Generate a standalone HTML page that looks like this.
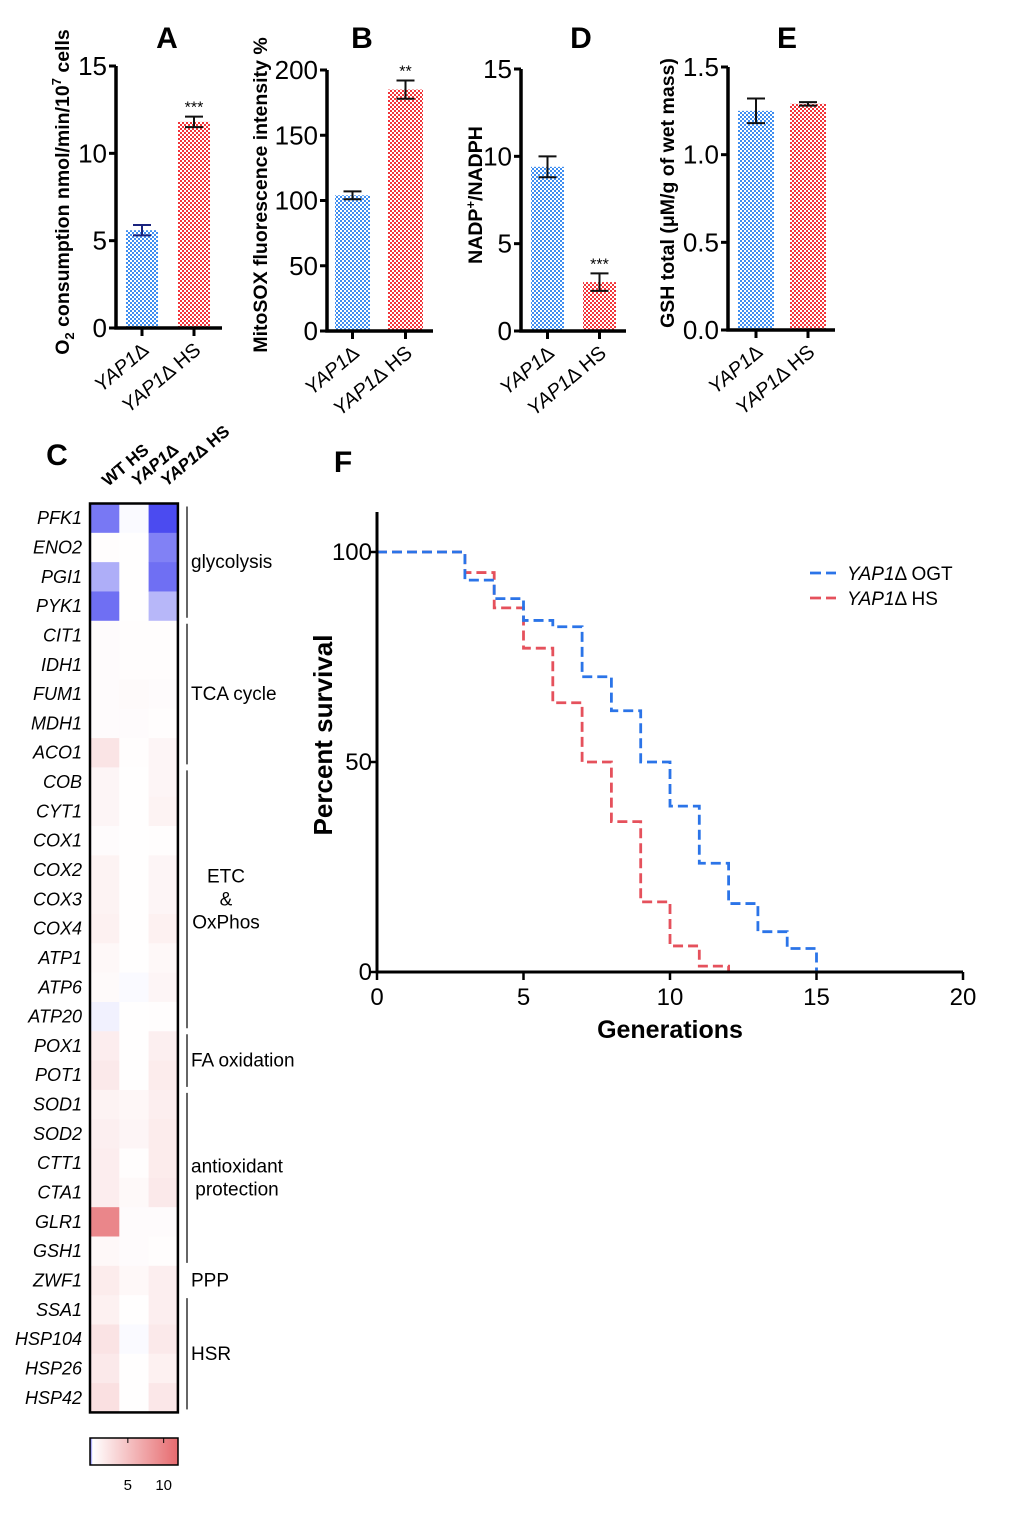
<!DOCTYPE html>
<html><head><meta charset="utf-8">
<style>
html,body{margin:0;padding:0;background:#fff;}
svg{display:block;font-family:"Liberation Sans",Arial,sans-serif;}
</style></head>
<body>
<svg id="fig" width="1020" height="1526" viewBox="0 0 1020 1526" xmlns="http://www.w3.org/2000/svg">
<defs>
<pattern id="pb" width="4" height="4" patternUnits="userSpaceOnUse">
<rect width="4" height="4" fill="#ffffff"/><rect width="2" height="2" fill="#3f8ef0"/><rect x="2" y="2" width="2" height="2" fill="#3f8ef0"/>
</pattern>
<pattern id="pr" width="4" height="4" patternUnits="userSpaceOnUse">
<rect width="4" height="4" fill="#ffffff"/><rect width="2" height="2" fill="#f2353a"/><rect x="2" y="2" width="2" height="2" fill="#f2353a"/>
</pattern>
<linearGradient id="cb" x1="0" x2="1" y1="0" y2="0">
<stop offset="0" stop-color="#4a4af0"/><stop offset="0.03" stop-color="#ffffff"/><stop offset="1" stop-color="#e66a6e"/>
</linearGradient>
</defs>
<g id="root"></g>
</svg>
<script>
// ---- Bar panel data ----
const barCategories = ["YAP1\u0394", "YAP1\u0394 HS"];
const panelAValues = [5.6, 11.8];
const panelAErrors = [0.3, 0.3];
const panelBValues = [104, 185];
const panelBErrors = [3, 7];
const panelDValues = [9.4, 2.8];
const panelDErrors = [0.6, 0.5];
const panelEValues = [1.25, 1.29];
const panelEErrors = [0.07, 0.01];
const panelATicks = ["0","5","10","15"];
const panelBTicks = ["0","50","100","150","200"];
const panelDTicks = ["0","5","10","15"];
const panelETicks = ["0.0","0.5","1.0","1.5"];
// ---- Heatmap data ----
const heatGenes = ["PFK1","ENO2","PGI1","PYK1","CIT1","IDH1","FUM1","MDH1","ACO1","COB","CYT1","COX1","COX2","COX3","COX4","ATP1","ATP6","ATP20","POX1","POT1","SOD1","SOD2","CTT1","CTA1","GLR1","GSH1","ZWF1","SSA1","HSP104","HSP26","HSP42"];
const heatColumns = ["WT HS","YAP1\u0394","YAP1\u0394 HS"];
const heatWT   = [-0.75,0.2,-0.45,-0.8,0.3,0.3,0.3,0.3,2.2,0.8,0.8,0.3,1.0,1.0,1.2,0.6,0.4,-0.08,1.5,1.8,1.0,1.3,1.5,1.5,10,0.6,1.6,1.2,2.3,1.8,2.6];
const heatYAP  = [-0.03,0.1,0.05,0.05,0.2,0.2,0.4,0.3,0.2,0.1,0.1,0.1,0.1,0.1,0.1,0.1,-0.03,0.1,0.1,0.1,0.7,0.8,0.2,0.5,0.3,0.3,0.6,0.1,-0.03,0.05,0.1];
const heatYAPHS= [-1.0,-0.7,-0.8,-0.4,0.2,0.2,0.3,0.2,0.8,0.8,1.0,0.2,0.8,0.8,1.2,0.6,0.8,0.2,1.3,1.6,1.4,1.6,1.6,1.8,0.3,0.2,1.4,1.4,1.8,1.2,2.0];
const heatGroupNames = ["glycolysis","TCA cycle","ETC\n&\nOxPhos","FA oxidation","antioxidant\nprotection","PPP","HSR"];
const heatGroupStart = [0,4,9,18,20,26,27];
const heatGroupEnd   = [3,8,17,19,25,26,30];
const colorbarTicks = [5,10];
// ---- Survival data ----
const survGenerations = [0,3,4,5,6,7,8,9,10,11,12,13,14,15];
const survOGT = [100,93.3,88.9,83.7,82.2,70.3,62.2,50,39.5,25.9,16.3,9.6,5.6,0];
const survHSGen = [0,3,4,5,6,7,8,9,10,11,12];
const survHS = [100,95.1,86.7,77.1,64.1,50,35.8,16.7,6.2,1.4,0];
const survXTicks = [0,5,10,15,20];
const survYTicks = [0,50,100];
const legendLabels = ["OGT","HS"];

const NS="http://www.w3.org/2000/svg";
const root=document.getElementById('root');
function mk(tag,attrs,parent,text){const e=document.createElementNS(NS,tag);for(const k in attrs)e.setAttribute(k,attrs[k]);if(text!==undefined)e.textContent=text;(parent||root).appendChild(e);return e;}

function barPanel(cfg){
  const g=mk('g',{});
  
  
  const y=v=>cfg.y0-(v/cfg.max)*(cfg.y0-cfg.yTop);
  const t=mk('text',{x:cfg.letterX,y:48,'font-size':30,'font-weight':'bold','text-anchor':'middle'},g,cfg.letter);
  
  
  cfg.values.forEach((v,i)=>{
    const bx=cfg.barX[i];
    const r=mk('rect',{x:bx,y:y(v),width:cfg.barW,height:cfg.y0-y(v),fill:i?'url(#pr)':'url(#pb)'},g);
    
    
    const cx=bx+cfg.barW/2, e=cfg.errors[i];
    const col=(cfg.letter==='A'&&i===0)?'#1a237e':'#111';
    const eb=mk('path',{d:`M${cx-9},${y(v+e)}H${cx+9}M${cx},${y(v+e)}V${y(v-e)}M${cx-9},${y(v-e)}H${cx+9}`,stroke:col,'stroke-width':2,fill:'none'},g);
    
    
    if(cfg.stars&&cfg.stars[i]){
      const s=mk('text',{x:cx,y:y(v+e)-4,'font-size':16,'text-anchor':'middle'},g,cfg.stars[i]);
      
      
    }
    mk('line',{x1:cx,x2:cx,y1:cfg.y0,y2:cfg.y0+8,stroke:'#000','stroke-width':3},g);
    const lab=mk('text',{x:0,y:0,'font-size':20,'text-anchor':'end',transform:`translate(${cx+8},${cfg.y0+24}) rotate(-40)`},g);
    
    
    const parts=barCategories[i].split(' ');
    mk('tspan',{'font-style':'italic'},lab,'YAP1');
    mk('tspan',{},lab,'\u0394'+(parts[1]?' '+parts[1]:''));
  });
  const ax=mk('path',{d:`M${cfg.axX},${cfg.yTop}V${cfg.y0}H${cfg.axEnd}`,stroke:'#000','stroke-width':3.5,fill:'none'},g);
  
  
  cfg.ticks.forEach((tl,i)=>{
    const v=i*cfg.max/(cfg.ticks.length-1);
    mk('line',{x1:cfg.axX-7,x2:cfg.axX,y1:y(v),y2:y(v),stroke:'#000','stroke-width':3},g);
    const tt=mk('text',{x:cfg.axX-9,y:y(v)+9,'font-size':26,'text-anchor':'end'},g,tl);
    
    
  });
  const yt=mk('text',{x:0,y:0,'font-size':cfg.titleSize||19.5,'font-weight':'bold','text-anchor':'middle',transform:`translate(${cfg.titleX},${cfg.titleY}) rotate(-90)`},g);
  
  
  cfg.title(yt);
}
barPanel({name:'panel-a',letter:'A',letterX:167,values:panelAValues,errors:panelAErrors,max:15,ticks:panelATicks,y0:328,yTop:66,axX:116,axEnd:222,barX:[126,178],barW:32,stars:['','***'],titleX:69,titleY:192,
  title:e=>{mk('tspan',{},e,'O');mk('tspan',{'font-size':13,dy:5},e,'2');mk('tspan',{dy:-5},e,' consumption nmol/min/10');mk('tspan',{'font-size':13,dy:-8},e,'7');mk('tspan',{dy:8},e,' cells');}});
barPanel({name:'panel-b',letter:'B',letterX:362,values:panelBValues,errors:panelBErrors,max:200,ticks:panelBTicks,y0:331,yTop:70,axX:327,axEnd:433,barX:[335,388],barW:35,stars:['','**'],titleX:267,titleY:195,
  title:e=>{e.textContent='MitoSOX fluorescence intensity %';}});
barPanel({name:'panel-d',letter:'D',letterX:581,values:panelDValues,errors:panelDErrors,max:15,ticks:panelDTicks,y0:331,yTop:69,axX:521,axEnd:626,barX:[531,583],barW:33,stars:['','***'],titleX:482,titleY:195,
  title:e=>{mk('tspan',{},e,'NADP');mk('tspan',{'font-size':13,dy:-7},e,'+');mk('tspan',{dy:7},e,'/NADPH');}});
barPanel({name:'panel-e',letter:'E',letterX:787,values:panelEValues,errors:panelEErrors,max:1.5,ticks:panelETicks,y0:330,yTop:67,axX:728,axEnd:835,barX:[738,790],barW:36,stars:null,titleX:674,titleY:193,
  title:e=>{e.textContent='GSH total (\u03bcM/g of wet mass)';}});

// ---- Heatmap ----
(function(){
  const g=mk('g',{});
  
  
  const L=mk('text',{x:57,y:465,'font-size':30,'font-weight':'bold','text-anchor':'middle'},g,'C');
  
  
  const x0=90,w=29.3,y0=503.5,h=29.32;
  function color(v){
    if(v<0){const t=Math.min(1,-v/1.0);return `rgb(${Math.round(255-t*180)},${Math.round(255-t*180)},${Math.round(255-t*15)})`;}
    const t=Math.min(1,v/12);return `rgb(${Math.round(255-t*25)},${Math.round(255-t*145)},${Math.round(255-t*140)})`;
  }
  const cols=[heatWT,heatYAP,heatYAPHS];
  cols.forEach((arr,c)=>{
    arr.forEach((v,r)=>{
      const cell=mk('rect',{x:x0+c*w,y:y0+r*h,width:w+0.5,height:h+0.5,fill:color(v)},g);
      
      
    });
  });
  const box=mk('rect',{x:x0,y:y0,width:3*w,height:heatGenes.length*h,fill:'none',stroke:'#000','stroke-width':2.5},g);
  
  
  heatGenes.forEach((gn,r)=>{
    const t=mk('text',{x:82,y:y0+r*h+h/2+6,'font-size':18,'font-style':'italic','text-anchor':'end'},g,gn);
    
    
  });
  heatColumns.forEach((cn,c)=>{
    const t=mk('text',{x:0,y:0,'font-size':17,'font-weight':'bold',transform:`translate(${x0+c*w+18},${487}) rotate(-40)`},g);
    
    
    if(cn.startsWith('YAP1')){mk('tspan',{'font-style':'italic'},t,'YAP1');mk('tspan',{},t,cn.slice(4));}else t.textContent=cn;
  });
  heatGroupNames.forEach((nm,i)=>{
    const ya=y0+heatGroupStart[i]*h+3, yb=y0+(heatGroupEnd[i]+1)*h-3;
    if(heatGroupStart[i]!==heatGroupEnd[i]){
      const ln=mk('line',{x1:187,x2:187,y1:ya,y2:yb,stroke:'#333','stroke-width':1.5},g);
      
      
    }
    const lines=nm.split('\n'), mid=(ya+yb)/2;
    const center=lines.length>1;
    lines.forEach((ln,k)=>{
      const yy=mid+6+(k-(lines.length-1)/2)*23;
      const t=mk('text',{x:center?(nm.startsWith('ETC')?226:237):191,y:yy,'font-size':19,'text-anchor':center?'middle':'start'},g,ln);
      
      
    });
  });
  const cb=mk('rect',{x:90,y:1438,width:88,height:27,fill:'url(#cb)',stroke:'#000','stroke-width':1.5},g);
  
  
  const cbx=v=>92+(v/12)*86;
  colorbarTicks.forEach(v=>{
    mk('line',{x1:cbx(v),x2:cbx(v),y1:1438,y2:1443,stroke:'#000','stroke-width':1},g);
    const t=mk('text',{x:cbx(v),y:1490,'font-size':15,'text-anchor':'middle'},g,String(v));
    
    
  });
})();

// ---- Survival ----
(function(){
  const g=mk('g',{});
  
  
  const X=v=>377+v*29.3, Y=v=>972-v*4.2;
  const L=mk('text',{x:343,y:472,'font-size':30,'font-weight':'bold','text-anchor':'middle'},g,'F');
  
  
  function steps(gens,vals){
    let d=`M${X(gens[0])},${Y(vals[0])}`;
    for(let i=1;i<gens.length;i++){d+=`H${X(gens[i])}V${Y(vals[i])}`;}
    return d;
  }
  const red=mk('path',{d:steps(survHSGen,survHS),stroke:'#e5515c','stroke-width':2.8,fill:'none','stroke-dasharray':'10,5'},g);
  
  
  const blue=mk('path',{d:steps(survGenerations,survOGT),stroke:'#2b74e8','stroke-width':2.8,fill:'none','stroke-dasharray':'10,5'},g);
  
  
  const ax=mk('path',{d:`M${X(0)},512V${Y(0)}H${X(20)}`,stroke:'#000','stroke-width':3,fill:'none'},g);
  
  
  survXTicks.forEach(v=>{
    mk('line',{x1:X(v),x2:X(v),y1:Y(0),y2:Y(0)+8,stroke:'#000','stroke-width':2.5},g);
    const t=mk('text',{x:X(v),y:1005,'font-size':24,'text-anchor':'middle'},g,String(v));
    
    
  });
  survYTicks.forEach(v=>{
    mk('line',{x1:X(0)-6,x2:X(0),y1:Y(v),y2:Y(v),stroke:'#000','stroke-width':2.5},g);
    const t=mk('text',{x:X(0)-5,y:Y(v)+8,'font-size':24,'text-anchor':'end'},g,String(v));
    
    
  });
  const xt=mk('text',{x:670,y:1038,'font-size':25,'font-weight':'bold','text-anchor':'middle'},g,'Generations');
  
  
  const yt=mk('text',{x:0,y:0,'font-size':26,'font-weight':'bold','text-anchor':'middle',transform:'translate(332,735) rotate(-90)'},g,'Percent survival');
  
  
  const cols=['#2b74e8','#e5515c'];
  legendLabels.forEach((lb,i)=>{
    const ly=573+i*25;
    const le=mk('g',{},g);
    
    
    mk('path',{d:`M810,${ly}H821M826,${ly}H836`,stroke:cols[i],'stroke-width':2.8,fill:'none'},le);
    const t=mk('text',{x:847,y:ly+7,'font-size':19},le);
    mk('tspan',{'font-style':'italic'},t,'YAP1');
    mk('tspan',{},t,'\u0394 '+lb);
  });
})();
</script>
</body></html>
